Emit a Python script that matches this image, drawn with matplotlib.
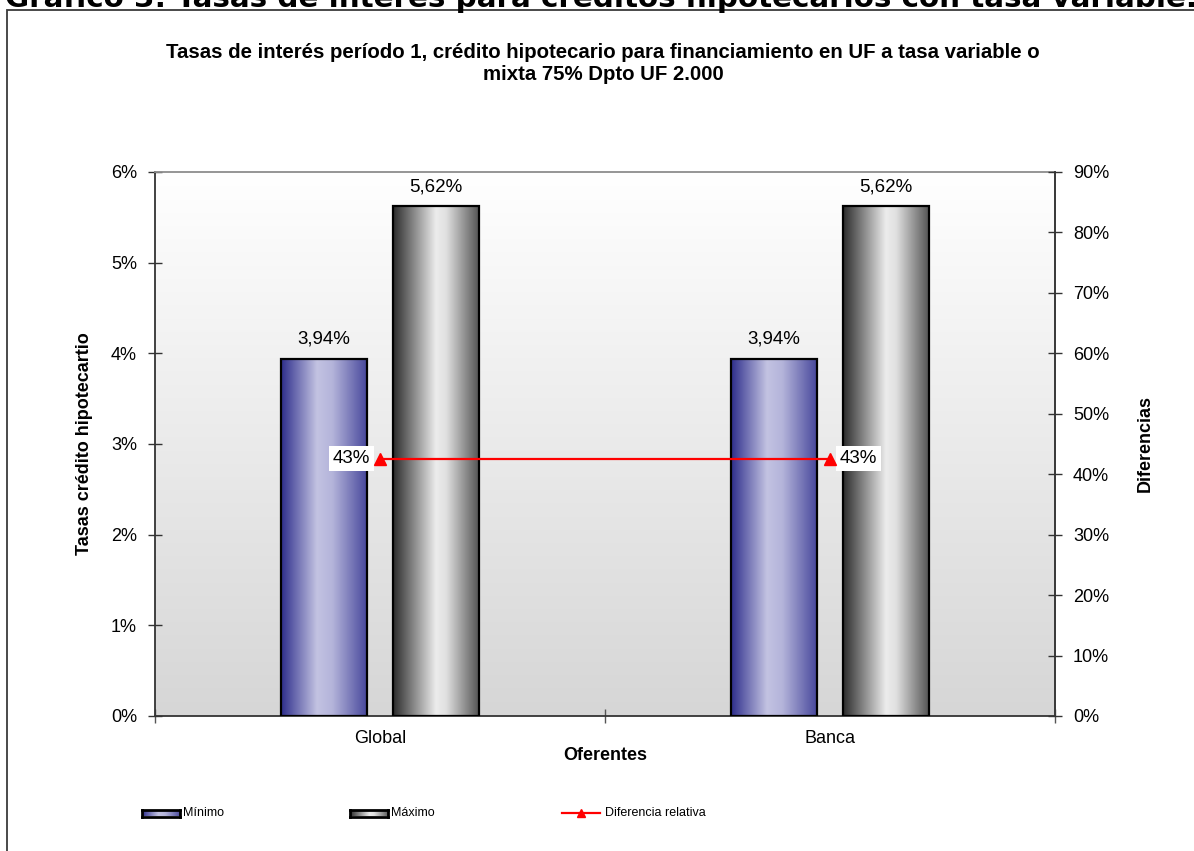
import numpy as np
import matplotlib
matplotlib.use("Agg")
import matplotlib.pyplot as plt
from matplotlib.colors import LinearSegmentedColormap
from matplotlib.patches import Rectangle
from matplotlib.lines import Line2D
from matplotlib.ticker import FuncFormatter, MultipleLocator

plt.rcParams['font.family'] = ['Liberation Sans', 'DejaVu Sans']

# ---- data ----
categories = ["Global", "Banca"]
minimo = [3.94, 3.94]          # %
maximo = [5.62, 5.62]          # %
diferencia = [42.6, 42.6]      # % relative difference (max/min - 1)
diff_labels = ["43%", "43%"]

series_names = ["Mínimo", "Máximo", "Diferencia relativa"]
suptitle = "Gráfico 3: Tasas de interés para créditos hipotecarios con tasa variable."
title = ("Tasas de interés período 1, crédito hipotecario para financiamiento en UF a tasa variable o\n"
         "mixta 75% Dpto UF 2.000")

W, H = 1194, 851
fig = plt.figure(figsize=(W / 100, H / 100), dpi=100)
fig.patch.set_facecolor("white")

def px(x, y):
    return x / W, 1 - y / H

# outer frame of the chart object
fig.add_artist(Rectangle(px(7, 900), 1.2, (900 - 10) / H, transform=fig.transFigure,
                         fill=False, edgecolor="#3a3a3a", linewidth=1.3))

# heading above the chart (runs past the page edge)
fig.text(5 / W, 1 - 7 / H, suptitle, fontsize=21.2, fontweight="bold",
         family="DejaVu Sans", ha="left", va="baseline")

# ---- gradients ----
blue_cmap = LinearSegmentedColormap.from_list(
    "blue_bar", [(0, "#2e2e8c"), (0.42, "#c3c3e2"), (0.6, "#b4b4da"), (1, "#48489c")])
gray_cmap = LinearSegmentedColormap.from_list(
    "gray_bar", [(0, "#2b2b2b"), (0.5, "#ececec"), (0.62, "#e0e0e0"), (1, "#555555")])
bg_cmap = LinearSegmentedColormap.from_list("bg", ["#ffffff", "#d6d6d6"])
hgrad = np.linspace(0, 1, 256).reshape(1, -1)
vgrad = np.linspace(0, 1, 256).reshape(-1, 1)

left, bottom = 155 / W, 1 - 716 / H
ax = fig.add_axes([left, bottom, 900 / W, 544 / H])

# plot area background
ax.imshow(vgrad, cmap=bg_cmap, aspect="auto", extent=[0, 1, 0, 1],
          transform=ax.transAxes, zorder=0)

x = np.arange(len(categories))
width = 0.191
offset = 0.1245

def gradient_bars(xpos, values, cmap):
    bars = ax.bar(xpos, values, width, facecolor="none", edgecolor="black",
                  linewidth=1.6, zorder=3)
    for b in bars:
        x0, y0 = b.get_x(), b.get_y()
        im = ax.imshow(hgrad, cmap=cmap, aspect="auto",
                       extent=[x0, x0 + b.get_width(), y0, y0 + b.get_height()],
                       zorder=2)
        im.set_clip_path(b)
    return bars

bars_min = gradient_bars(x - offset, minimo, blue_cmap)
bars_max = gradient_bars(x + offset, maximo, gray_cmap)

for bars, vals in ((bars_min, minimo), (bars_max, maximo)):
    for b, v in zip(bars, vals):
        ax.annotate(f"{v:.2f}%".replace(".", ","),
                    (b.get_x() + b.get_width() / 2, v), xytext=(0, 8),
                    textcoords="offset points", ha="center", va="bottom",
                    fontsize=13.5)

ax.set_xlim(-0.5, len(categories) - 0.5)
ax.set_ylim(0, 6)

ax.yaxis.set_major_locator(MultipleLocator(1))
ax.yaxis.set_major_formatter(FuncFormatter(lambda v, p: f"{v:.0f}%"))
ax.set_xticks(np.arange(-0.5, len(categories)), minor=False)
ax.set_xticklabels([])
ax.set_xticks(x, minor=True)
ax.set_xticklabels(categories, minor=True)
ax.tick_params(axis="x", which="major", direction="inout", length=10, width=1, color="#555555")
ax.tick_params(axis="x", which="minor", length=0, pad=10, labelsize=13)
ax.tick_params(axis="y", direction="inout", length=10, width=1, color="#333333",
               labelsize=13, pad=8)
for s in ("left", "bottom"):
    ax.spines[s].set_color("#333333")
    ax.spines[s].set_linewidth(1.3)
for s in ("top", "right"):
    ax.spines[s].set_color("#8c8c8c")
    ax.spines[s].set_linewidth(1.3)

ax.set_xlabel("Oferentes", fontsize=13, fontweight="bold", labelpad=0)
ax.set_ylabel("Tasas crédito hipotecartio", fontsize=13, fontweight="bold", labelpad=13)

# ---- secondary axis: relative difference ----
ax2 = ax.twinx()
ax2.set_ylim(0, 90)
ax2.yaxis.set_major_locator(MultipleLocator(10))
ax2.yaxis.set_major_formatter(FuncFormatter(lambda v, p: f"{v:.0f}%"))
ax2.tick_params(axis="y", direction="inout", length=10, width=1, color="#333333",
                labelsize=13, pad=8)
for s in ax2.spines.values():
    s.set_visible(False)
ax2.spines["right"].set_visible(True)
ax2.spines["right"].set_color("#333333")
ax2.spines["right"].set_linewidth(1.3)
ax2.plot(x, diferencia, color="#ff0000", linewidth=1.6, marker="^",
         markersize=8, zorder=5)
ax2.set_ylabel("Diferencias", fontsize=13, fontweight="bold", labelpad=20)

ha_list = ["right", "left"]
dx_list = [-7, 7]
for xi, v, lab, ha, dx in zip(x, diferencia, diff_labels, ha_list, dx_list):
    ax2.annotate(lab, (xi, v), xytext=(dx, 0), textcoords="offset points",
                 ha=ha, va="center", fontsize=13.5,
                 bbox=dict(facecolor="white", edgecolor="none", pad=3))

# chart title
fig.text(603 / W, 1 - 63 / H, title, ha="center", va="center", fontsize=14.7,
         fontweight="bold", linespacing=1.2)

# ---- legend ----
leg_y = 813
def legend_patch(x0, cmap, label):
    lax = fig.add_axes([x0 / W, 1 - (leg_y + 3.5) / H, 38 / W, 7 / H])
    lax.imshow(hgrad, cmap=cmap, aspect="auto", extent=[0, 1, 0, 1])
    lax.set_xticks([]); lax.set_yticks([])
    for s in lax.spines.values():
        s.set_linewidth(2)
        s.set_color("black")
    fig.text((x0 + 41) / W, 1 - leg_y / H, label, fontsize=9, va="center", ha="left")

legend_patch(142, blue_cmap, series_names[0])
legend_patch(350, gray_cmap, series_names[1])
fig.add_artist(Line2D([562 / W, 600 / W], [1 - leg_y / H] * 2, color="#ff0000",
                      linewidth=1.6, transform=fig.transFigure))
fig.add_artist(Line2D([581 / W], [1 - leg_y / H], color="#ff0000", marker="^",
                      markersize=6, transform=fig.transFigure))
fig.text(605 / W, 1 - leg_y / H, series_names[2], fontsize=9, va="center", ha="left")

fig.savefig("out.png", dpi=100)
